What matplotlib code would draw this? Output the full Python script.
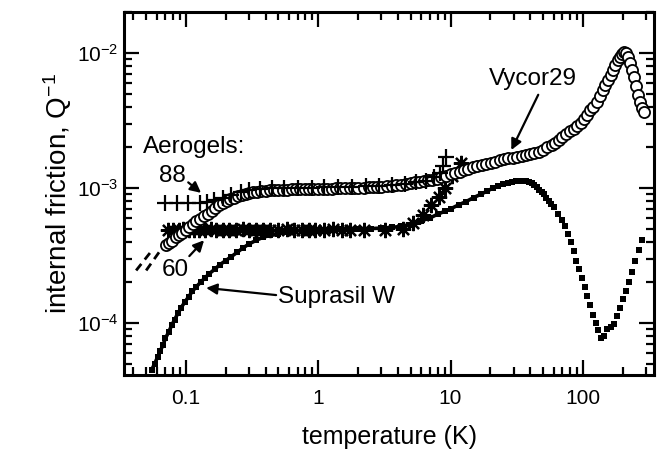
import matplotlib
matplotlib.use("Agg")
import matplotlib.pyplot as plt
from matplotlib.ticker import LogLocator, NullFormatter, FuncFormatter

plt.rcParams['font.family'] = ['Liberation Sans', 'DejaVu Sans']
plt.rcParams['mathtext.fontset'] = 'custom'
plt.rcParams['mathtext.rm'] = 'Liberation Sans'
plt.rcParams['mathtext.it'] = 'Liberation Sans:italic'
plt.rcParams['axes.unicode_minus'] = False

# Vycor29 (open circles)
vyc_T = [0.071, 0.075, 0.079, 0.084, 0.089, 0.094, 0.10, 0.106, 0.113, 0.12,
         0.128, 0.137, 0.146, 0.156, 0.167, 0.178, 0.19, 0.203, 0.217, 0.232,
         0.248, 0.265, 0.283, 0.3, 0.32, 0.345, 0.37, 0.4, 0.43, 0.46,
         0.5, 0.54, 0.58, 0.63, 0.68, 0.73, 0.79, 0.85, 0.92, 1.0,
         1.08, 1.17, 1.26, 1.36, 1.47, 1.6, 1.73, 1.87, 2.0, 2.2,
         2.4, 2.6, 2.8, 3.0, 3.3, 3.6, 3.9, 4.2, 4.6, 5.0,
         5.4, 5.8, 6.3, 6.8, 7.3, 7.9, 8.5, 9.2, 10.0, 10.8,
         11.7, 12.6, 13.6, 14.7, 15.9, 17.2, 18.6, 20.1, 21.7, 23.5,
         25.4, 27.4, 29.6, 32, 34.5, 37, 40, 43, 46.5, 50,
         54, 58, 62, 66, 70, 75, 80, 85, 90, 96,
         102, 108, 114, 120, 127, 134, 141, 148, 155, 162,
         169, 176, 183, 190, 197, 204, 211, 218, 226, 234,
         242, 251, 260, 270, 281, 292]
vyc_Q = [3.8e-4, 3.9e-4, 4.05e-4, 4.3e-4, 4.45e-4, 4.65e-4, 4.9e-4, 5.1e-4, 5.4e-4, 5.65e-4,
         5.9e-4, 6.2e-4, 6.45e-4, 6.8e-4, 7.1e-4, 7.45e-4, 7.8e-4, 8.05e-4, 8.3e-4, 8.5e-4,
         8.7e-4, 8.9e-4, 9.05e-4, 9.2e-4, 9.3e-4, 9.4e-4, 9.5e-4, 9.55e-4, 9.6e-4, 9.65e-4,
         9.7e-4, 9.7e-4, 9.7e-4, 9.75e-4, 9.75e-4, 9.8e-4, 9.8e-4, 9.8e-4, 9.8e-4, 9.85e-4,
         9.85e-4, 9.9e-4, 9.9e-4, 9.95e-4, 1.0e-3, 1.0e-3, 1.0e-3, 1.0e-3, 1.0e-3, 1.005e-3,
         1.01e-3, 1.01e-3, 1.015e-3, 1.02e-3, 1.03e-3, 1.04e-3, 1.05e-3, 1.06e-3, 1.07e-3, 1.09e-3,
         1.1e-3, 1.11e-3, 1.12e-3, 1.14e-3, 1.15e-3, 1.17e-3, 1.2e-3, 1.23e-3, 1.26e-3, 1.29e-3,
         1.32e-3, 1.35e-3, 1.39e-3, 1.42e-3, 1.45e-3, 1.48e-3, 1.51e-3, 1.54e-3, 1.57e-3, 1.6e-3,
         1.63e-3, 1.66e-3, 1.68e-3, 1.7e-3, 1.72e-3, 1.74e-3, 1.77e-3, 1.81e-3, 1.86e-3, 1.92e-3,
         2.0e-3, 2.08e-3, 2.17e-3, 2.27e-3, 2.37e-3, 2.5e-3, 2.63e-3, 2.75e-3, 2.88e-3, 3.02e-3,
         3.25e-3, 3.5e-3, 3.75e-3, 3.95e-3, 4.3e-3, 4.8e-3, 5.3e-3, 5.8e-3, 6.3e-3, 6.9e-3,
         7.5e-3, 8.1e-3, 8.8e-3, 9.4e-3, 9.9e-3, 1.02e-2, 1.0e-2, 9.4e-3, 8.4e-3, 7.5e-3,
         6.6e-3, 5.7e-3, 4.9e-3, 4.3e-3, 3.9e-3, 3.65e-3]

# Aerogel 88 (plus)
a88_T = [0.070, 0.085, 0.104, 0.127, 0.143, 0.163, 0.19, 0.22, 0.26, 0.3,
         0.36, 0.45, 0.55, 0.7, 0.9, 1.1, 1.4, 1.8, 2.3, 2.9, 3.6, 4.5,
         5.5, 6.5, 7.5, 8.3, 8.8, 9.2]
a88_Q = [7.7e-4, 7.7e-4, 7.7e-4, 7.8e-4, 7.9e-4, 8.1e-4, 8.5e-4, 8.9e-4, 9.3e-4, 9.6e-4,
         9.8e-4, 1.0e-3, 1.0e-3, 1.0e-3, 1.0e-3, 1.01e-3, 1.01e-3, 1.02e-3, 1.03e-3, 1.04e-3, 1.05e-3, 1.07e-3,
         1.1e-3, 1.13e-3, 1.2e-3, 1.3e-3, 1.45e-3, 1.7e-3]

# Aerogel 60 (asterisk)
a60_T = [0.073, 0.08, 0.088, 0.095, 0.105, 0.115, 0.125, 0.14, 0.155, 0.17,
         0.19, 0.21, 0.24, 0.27, 0.3, 0.34, 0.38, 0.43, 0.5, 0.58, 0.66,
         0.75, 0.85, 0.95, 1.1, 1.3, 1.5, 1.75, 2.2, 3.2, 4.4, 5.2, 6.2,
         7.1, 8.2, 9.0, 10.3, 12]
a60_Q = [4.9e-4, 4.85e-4, 4.9e-4, 4.95e-4, 4.9e-4, 4.85e-4, 4.9e-4, 4.9e-4, 4.95e-4, 4.9e-4,
         4.85e-4, 4.9e-4, 4.9e-4, 4.95e-4, 4.9e-4, 4.85e-4, 4.9e-4, 4.9e-4, 4.9e-4, 4.95e-4, 4.9e-4,
         4.9e-4, 4.85e-4, 4.9e-4, 4.9e-4, 4.95e-4, 4.9e-4, 4.9e-4, 4.9e-4, 4.9e-4, 4.95e-4, 5.5e-4, 6.3e-4,
         7.5e-4, 8.6e-4, 1.0e-3, 1.22e-3, 1.53e-3]

# Suprasil W (small filled squares)
sup_T = [0.055, 0.058, 0.061, 0.064, 0.067, 0.070, 0.074, 0.078, 0.082, 0.087,
         0.092, 0.098, 0.105, 0.112, 0.12, 0.13, 0.14, 0.15, 0.165, 0.18,
         0.2, 0.22, 0.245, 0.27, 0.3, 0.34, 0.38, 0.43, 0.5, 0.58, 0.66,
         0.76, 0.88, 1.0, 1.2, 1.4, 1.7, 2.0, 2.5, 3.0, 3.6, 4.2, 5.0, 6.0,
         7.0, 8.0, 9.0, 10.0, 11.5, 13, 15, 17, 19, 21, 23, 25, 27, 29, 31,
         33, 35, 37, 39, 41, 43, 45, 47, 49, 51, 53, 55, 57.5, 61, 65, 69,
         73, 77, 81, 85, 89, 93, 98, 103, 108, 113, 119, 125, 131, 138, 145,
         153, 162, 171, 180, 190, 200, 211, 223, 236, 250, 264, 280]
sup_Q = [4.5e-5, 5.0e-5, 5.6e-5, 6.2e-5, 6.9e-5, 7.7e-5, 8.6e-5, 9.6e-5, 1.06e-4, 1.18e-4,
         1.3e-4, 1.43e-4, 1.57e-4, 1.72e-4, 1.86e-4, 2.02e-4, 2.17e-4, 2.32e-4, 2.5e-4, 2.7e-4,
         2.9e-4, 3.1e-4, 3.35e-4, 3.6e-4, 3.85e-4, 4.1e-4, 4.3e-4, 4.45e-4, 4.6e-4, 4.7e-4, 4.8e-4,
         4.85e-4, 4.9e-4, 4.9e-4, 4.9e-4, 4.95e-4, 5.0e-4, 5.0e-4, 5.0e-4, 5.05e-4, 5.1e-4, 5.2e-4, 5.35e-4, 5.7e-4,
         6.0e-4, 6.4e-4, 6.7e-4, 7.0e-4, 7.5e-4, 7.9e-4, 8.5e-4, 9.0e-4, 9.5e-4, 1.0e-3, 1.04e-3, 1.07e-3, 1.09e-3, 1.11e-3, 1.12e-3,
         1.13e-3, 1.13e-3, 1.12e-3, 1.1e-3, 1.08e-3, 1.05e-3, 1.01e-3, 9.7e-4, 9.4e-4, 9.0e-4, 8.5e-4, 8.0e-4, 7.6e-4, 7.2e-4, 6.4e-4, 5.8e-4,
         5.2e-4, 4.6e-4, 4.0e-4, 3.4e-4, 2.9e-4, 2.5e-4, 2.15e-4, 1.85e-4, 1.58e-4, 1.35e-4, 1.15e-4, 1.0e-4, 8.8e-5, 7.8e-5, 8.0e-5,
         9.0e-5, 9.4e-5, 9.8e-5, 1.12e-4, 1.3e-4, 1.5e-4, 1.72e-4, 2.0e-4, 2.4e-4, 2.9e-4, 3.5e-4, 4.1e-4]
sup_dense = 66  # points up to ~45 K sit so close they read as a solid line

# dashed low-temperature extrapolations
dashA_T = [0.042, 0.056]
dashA_Q = [2.45e-4, 3.5e-4]
dashB_T = [0.050, 0.070]
dashB_Q = [2.45e-4, 3.9e-4]

fig = plt.figure(figsize=(6.72, 4.53), dpi=100)
ax = fig.add_axes([124 / 672, 1 - 375 / 453, 530 / 672, 363 / 453])

ax.plot(dashA_T, dashA_Q, color='k', lw=2, dashes=(3, 2))
ax.plot(dashB_T, dashB_Q, color='k', lw=2, dashes=(3, 2))
ax.plot(sup_T[:sup_dense], sup_Q[:sup_dense], '-', color='k', lw=2.6)
ax.plot(sup_T, sup_Q, 's', color='k', ms=4.2, mew=0)
ax.plot(a60_T, a60_Q, ls='none', marker=(8, 2, 0), color='k', ms=11, mew=1.6)
ax.plot(vyc_T, vyc_Q, 'o', mfc='white', mec='k', ms=8, mew=1.3)
ax.plot(a88_T, a88_Q, '+', color='k', ms=11, mew=1.6)

ax.set_xscale('log')
ax.set_yscale('log')
ax.set_xlim(0.034, 345)
ax.set_ylim(4.12e-5, 2.01e-2)

ax.xaxis.set_major_locator(LogLocator(base=10, numticks=10))
ax.xaxis.set_minor_locator(LogLocator(base=10, subs=range(2, 10), numticks=20))
ax.xaxis.set_major_formatter(FuncFormatter(lambda v, p: '%g' % v))
ax.xaxis.set_minor_formatter(NullFormatter())
ax.yaxis.set_minor_locator(LogLocator(base=10, subs=range(2, 10), numticks=20))
ax.yaxis.set_minor_formatter(NullFormatter())

ax.tick_params(which='both', direction='in', top=True, right=True, labelsize=15, color='k')
ax.tick_params(which='major', length=11, width=1.6)
ax.tick_params(which='minor', length=6, width=1.6)
ax.tick_params(axis='x', which='major', pad=10)
ax.tick_params(axis='y', which='major', pad=4)
for s in ax.spines.values():
    s.set_linewidth(2.2)

ax.set_xlabel('temperature (K)', fontsize=18, labelpad=12)
ax.set_ylabel('internal friction, Q$^{-1}$', fontsize=20, labelpad=2)

arrow = dict(arrowstyle='-|>', color='k', lw=1.6, mutation_scale=16, shrinkA=0, shrinkB=0)
ax.text(0.0475, 2.01e-3, 'Aerogels:', fontsize=17.5, ha='left', va='center')
ax.text(0.0788, 1.23e-3, '88', fontsize=17.5, ha='center', va='center')
ax.annotate('', xy=(0.13, 9.2e-4), xytext=(0.104, 1.1e-3), arrowprops=arrow)
ax.text(0.083, 2.47e-4, '60', fontsize=17.5, ha='center', va='center')
ax.annotate('', xy=(0.137, 4.1e-4), xytext=(0.106, 3.13e-4), arrowprops=arrow)
ax.text(0.5, 1.56e-4, 'Suprasil W', fontsize=17.5, ha='left', va='center')
ax.annotate('', xy=(0.142, 1.82e-4), xytext=(0.48, 1.61e-4), arrowprops=arrow)
ax.text(42, 6.4e-3, 'Vycor29', fontsize=17.5, ha='center', va='center')
ax.annotate('', xy=(28.8, 1.91e-3), xytext=(46, 4.9e-3), arrowprops=arrow)

fig.savefig('out.png', dpi=100)
